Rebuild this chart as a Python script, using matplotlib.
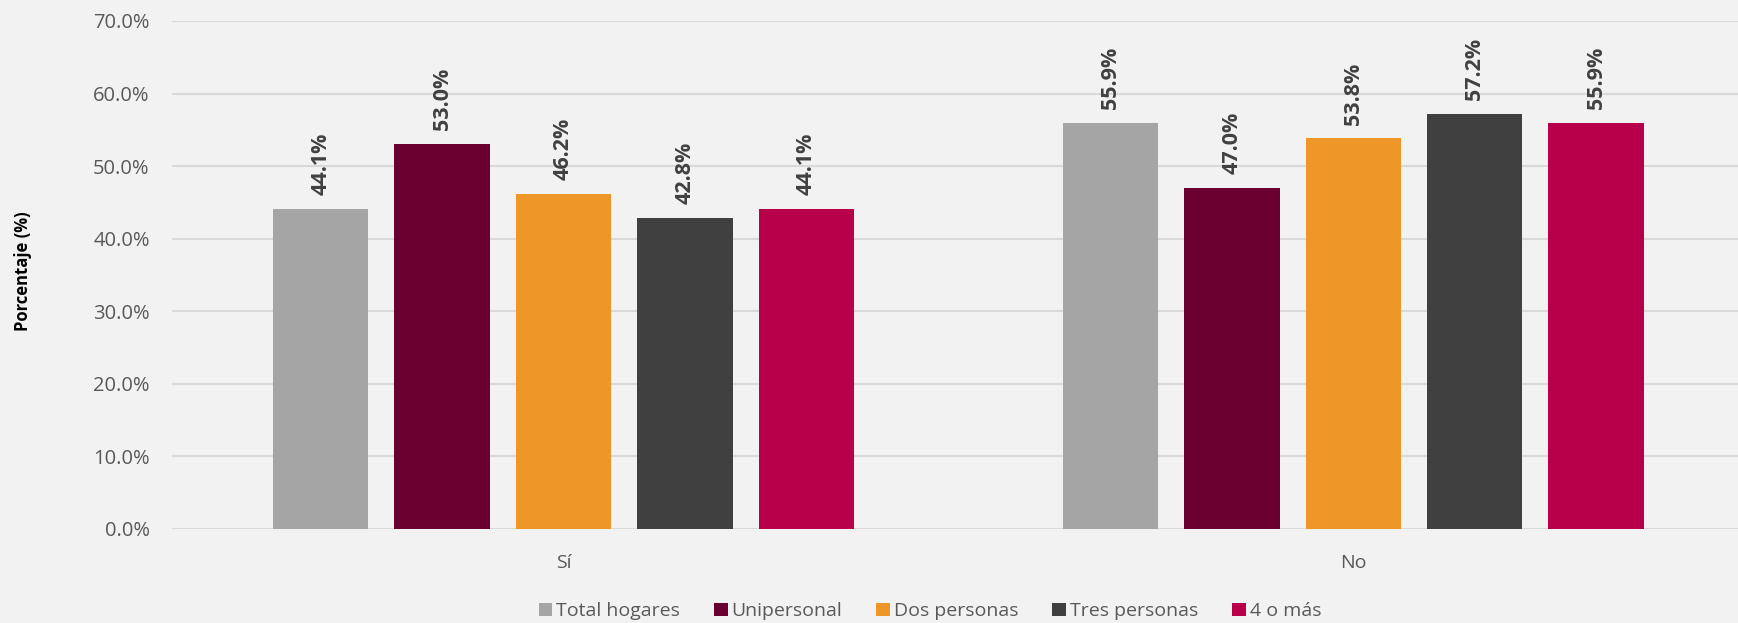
import matplotlib
matplotlib.use("Agg")
import matplotlib.pyplot as plt
import numpy as np

BG_COLOR = "#f2f2f2"
GRID_COLOR = "#d9d9d9"
TICK_COLOR = "#595959"
LABEL_COLOR = "#404040"

categories = ["Sí", "No"]
series = ["Total hogares", "Unipersonal", "Dos personas", "Tres personas", "4 o más"]
colors = ["#a5a5a5", "#6a0030", "#ee9627", "#404040", "#b8004a"]
total_hogares = [44.1, 55.9]
unipersonal = [53.0, 47.0]
dos_personas = [46.2, 53.8]
tres_personas = [42.8, 57.2]
cuatro_o_mas = [44.1, 55.9]
y_ticks = [0, 10, 20, 30, 40, 50, 60, 70]

plt.rcParams["font.family"] = ["Open Sans", "DejaVu Sans"]

fig = plt.figure(figsize=(17.38, 6.23), dpi=100, facecolor=BG_COLOR)
ax = fig.add_axes([0.0989, 0.1514, 0.9011, 0.8149])
ax.set_facecolor(BG_COLOR)

values = [total_hogares, unipersonal, dos_personas, tres_personas, cuatro_o_mas]
x = np.arange(len(categories))
pitch = 0.1537
width = 0.1207

for i, (name, vals, col) in enumerate(zip(series, values, colors)):
    pos = x + (i - 2) * pitch
    bars = ax.bar(pos, vals, width=width, color=col, label=name, zorder=3)
    for b, v in zip(bars, vals):
        ax.annotate(f"{v:.1f}%", (b.get_x() + b.get_width() / 2, v),
                    textcoords="offset points", xytext=(0, 10),
                    rotation=90, ha="center", va="bottom",
                    fontsize=15.5, fontweight="bold", color=LABEL_COLOR)

ax.set_ylim(0, 70)
ax.set_xlim(-0.4958, 1.487)
ax.set_yticks(y_ticks)
ax.set_yticklabels([f"{t:.1f}%" for t in y_ticks], fontsize=14.5, color=TICK_COLOR)
ax.set_xticks(x)
ax.set_xticklabels(categories, fontsize=14, color=TICK_COLOR)
ax.tick_params(axis="both", length=0)
ax.tick_params(axis="y", pad=16)
ax.tick_params(axis="x", pad=18)
ax.grid(True, axis="y", color=GRID_COLOR, linewidth=1.5, zorder=0)
for s in ax.spines.values():
    s.set_visible(False)

fig.text(0.013, 0.565, "Porcentaje (%)", rotation=90, ha="center", va="center",
         fontsize=12, fontweight="bold", color="black")

fig.legend(loc="center", bbox_to_anchor=(0.535, 0.019), ncol=5, frameon=False,
           fontsize=14, handlelength=0.7, handleheight=0.7, handletextpad=0.2,
           columnspacing=1.75, labelcolor=TICK_COLOR)

fig.savefig("out.png", dpi=100, facecolor=BG_COLOR)
